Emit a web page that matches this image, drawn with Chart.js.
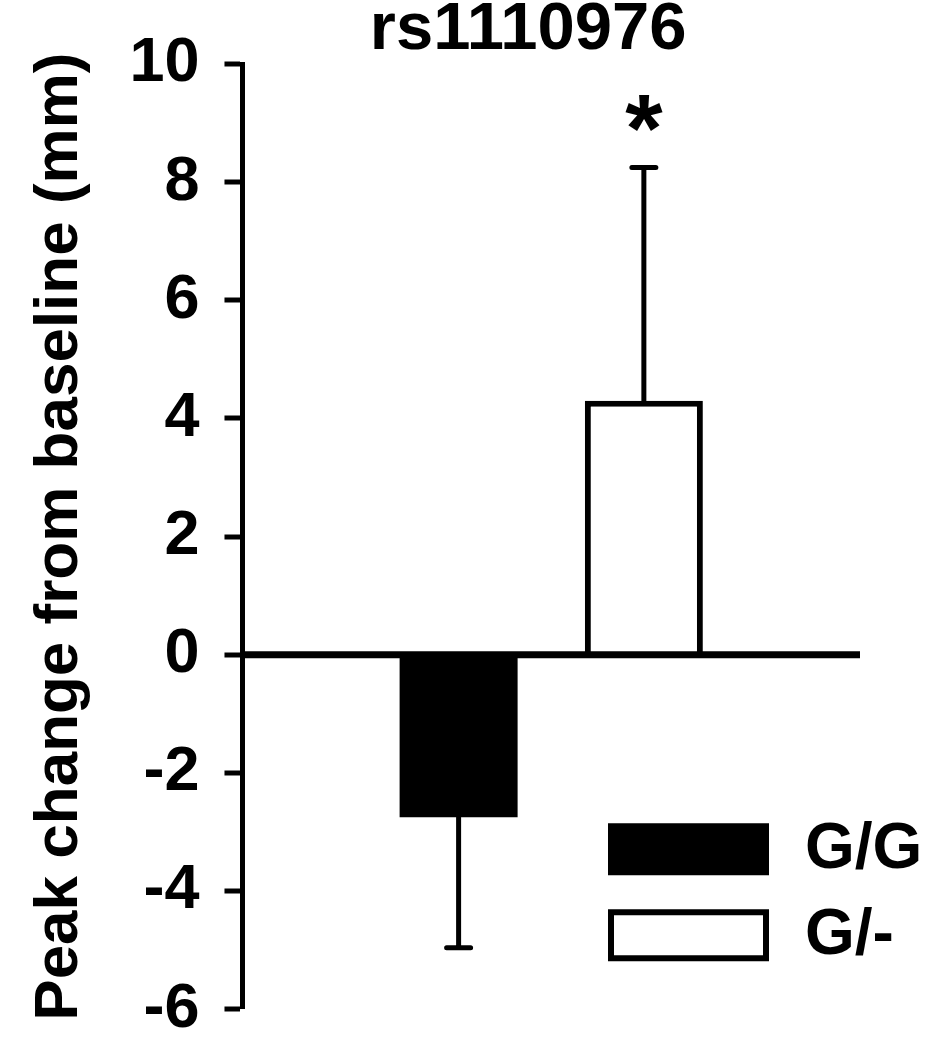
<!DOCTYPE html>
<html>
<head>
<meta charset="utf-8">
<title>rs1110976</title>
<script src="https://cdn.jsdelivr.net/npm/chart.js@4.4.1/dist/chart.umd.min.js"></script>
<style>
  html, body { margin: 0; padding: 0; background: #fff; }
  #wrap { width: 942px; height: 1050px; }
</style>
</head>
<body>
<div id="wrap"><canvas id="peakChart"></canvas></div>
<script>
// values
const genotypes = ['G/G', 'G/-'];
const barPos = [3.5, 6.5];
const peakChange = [-2.75, 4.3];
const peakSem = [2.21, 3.95];
const significant = ['', '*'];
const yTicks = [-6, -4, -2, 0, 2, 4, 6, 8, 10];
const barColors = ['#000000', '#ffffff'];

const FONT = "'Liberation Sans', Arial, sans-serif";

// zero line, one-sided error bars + asterisk
const errorBars = {
    id: 'errorBars',
    afterDatasetsDraw(chart) {
        const ctx = chart.ctx;
        const area = chart.chartArea;
        const y = chart.scales.y;
        const meta = chart.getDatasetMeta(0);
        ctx.save();
        ctx.strokeStyle = '#000';

        const y0line = y.getPixelForValue(0);
        ctx.lineWidth = 7;
        ctx.beginPath();
        ctx.moveTo(area.left, y0line);
        ctx.lineTo(area.right, y0line);
        ctx.stroke();

        ctx.lineWidth = 5;
        ctx.lineCap = 'round';
        meta.data.forEach((bar, i) => {
            const v = peakChange[i];
            const end = v + Math.sign(v) * peakSem[i];
            const y0 = y.getPixelForValue(v);
            const y1 = y.getPixelForValue(end);
            ctx.beginPath();
            ctx.moveTo(bar.x, y0);
            ctx.lineTo(bar.x, y1);
            ctx.moveTo(bar.x - 12, y1);
            ctx.lineTo(bar.x + 12, y1);
            ctx.stroke();
            if (significant[i]) {
                ctx.fillStyle = '#000';
                ctx.font = 'bold 96px ' + FONT;
                ctx.textAlign = 'center';
                ctx.textBaseline = 'middle';
                ctx.fillText(significant[i], bar.x, y1 - 33);
            }
        });
        ctx.restore();
    }
};

// title and legend boxes
const decorations = {
    id: 'decorations',
    afterDraw(chart) {
        const ctx = chart.ctx;
        const area = chart.chartArea;
        ctx.save();
        ctx.fillStyle = '#000';
        ctx.font = 'bold 67px ' + FONT;
        ctx.textAlign = 'center';
        ctx.textBaseline = 'middle';
        ctx.fillText('rs1110976', (area.left + area.right) / 2 - 23, 31);

        ctx.font = 'bold 64px ' + FONT;
        genotypes.forEach((g, i) => {
            const bx = area.right - 252;
            const by = area.bottom - 186 + i * 86;
            if (barColors[i] === '#000000') {
                ctx.fillStyle = '#000';
                ctx.fillRect(bx, by, 161, 52);
            } else {
                ctx.fillStyle = barColors[i];
                ctx.fillRect(bx, by, 161, 52);
                ctx.strokeStyle = '#000';
                ctx.lineWidth = 6;
                ctx.strokeRect(bx + 3, by + 3, 155, 46);
            }
            ctx.fillStyle = '#000';
            ctx.textAlign = 'left';
            ctx.fillText(g, bx + 197, by + 27);
        });
        ctx.restore();
    }
};

const ctx = document.getElementById('peakChart').getContext('2d');
const peakChart = new Chart(ctx, {
    type: 'bar',
    data: {
        datasets: [{
            label: 'Peak change',
            data: genotypes.map((g, i) => ({ x: barPos[i], y: peakChange[i] })),
            backgroundColor: barColors,
            borderColor: '#000',
            borderWidth: [0, 6],
            inflateAmount: 0,
            barThickness: 118
        }]
    },
    options: {
        responsive: true,
        maintainAspectRatio: false,
        animation: false,
        layout: { padding: { left: 0, right: 82, top: 64, bottom: 40 } },
        plugins: {
            legend: { display: false },
            tooltip: { enabled: false }
        },
        scales: {
            x: {
                type: 'linear',
                min: 0,
                max: 10,
                offset: false,
                display: false
            },
            y: {
                min: yTicks[0],
                max: yTicks[yTicks.length - 1],
                border: { display: true, color: '#000', width: 5 },
                grid: {
                    drawOnChartArea: false,
                    lineWidth: 0,
                    tickColor: '#000',
                    tickWidth: 5,
                    tickLength: 18
                },
                ticks: {
                    stepSize: yTicks[1] - yTicks[0],
                    color: '#000',
                    padding: 25,
                    font: { family: FONT, size: 63, weight: 'bold', lineHeight: 0.5 }
                },
                title: {
                    display: true,
                    text: 'Peak change from baseline (mm)',
                    color: '#000',
                    padding: { top: 23, bottom: 7 },
                    font: { family: FONT, size: 62, weight: 'bold', lineHeight: 1.2 }
                }
            }
        }
    },
    plugins: [errorBars, decorations]
});
</script>
</body>
</html>
